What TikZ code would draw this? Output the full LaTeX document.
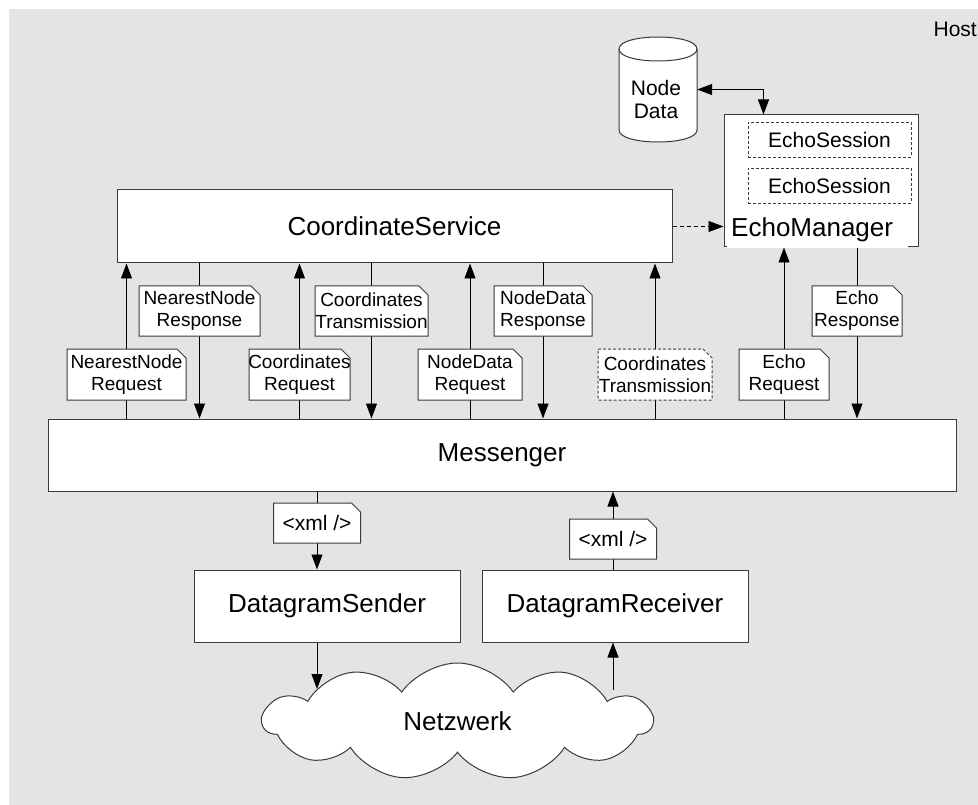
\documentclass[tikz,border=0pt]{standalone}
\usepackage{fontspec}
\setmainfont{Liberation Sans}
\usetikzlibrary{arrows.meta,shapes.symbols,calc}
\pgfdeclarelayer{bg}
\pgfdeclarelayer{lines}
\pgfsetlayers{bg,lines,main}

\definecolor{hostgray}{HTML}{E4E4E4}
\definecolor{boxline}{HTML}{3A3A3A}

\tikzset{
  bigfont/.style={font=\fontsize{26}{30}\selectfont},
  midfont/.style={font=\fontsize{21}{23}\selectfont},
  smallfont/.style={font=\fontsize{19}{22}\selectfont},
  box/.style={draw=boxline, fill=white, line width=1pt, inner sep=0pt, bigfont},
  sessionbox/.style={draw=boxline, fill=white, line width=0.9pt, dash pattern=on 3pt off 2pt, inner sep=0pt, midfont},
  notefill/.style={draw=boxline, fill=white, line width=1pt},
  notetext/.style={inner sep=0pt, align=center, smallfont},
  dashednote/.style={dash pattern=on 3pt off 2pt},
  arr/.style={-{Triangle[length=15pt,width=11pt]}, line width=0.9pt, draw=black},
  biarr/.style={{Triangle[length=15pt,width=11pt]}-{Triangle[length=15pt,width=11pt]}, line width=0.9pt, draw=black},
}

% message note with a folded top-right corner:
% name, centre x, centre y, width, height, extra style, text
\newcommand\msgnote[7]{%
  \draw[notefill,#6] ({#2-#4/2},{#3-#5/2}) -- ({#2+#4/2-9},{#3-#5/2})
     -- ({#2+#4/2},{#3-#5/2+9}) -- ({#2+#4/2},{#3+#5/2})
     -- ({#2-#4/2},{#3+#5/2}) -- cycle;
  \node[notetext, minimum width=#4, minimum height=#5] (#1) at (#2,#3) {#7};%
}

\begin{document}
\begin{tikzpicture}[x=1pt,y=-1pt]
\useasboundingbox (0,0) rectangle (978,805);

% host area
\begin{pgfonlayer}{bg}
  \fill[hostgray] (9,9) rectangle (978,805);
\end{pgfonlayer}
\node[anchor=base east, inner sep=0pt, midfont] (host) at (977,37) {Host};

% node data store
\draw[notefill] (619,49) -- (619,130) .. controls (619,146) and (697,146) .. (697,130)
  -- (697,49) .. controls (697,33) and (619,33) .. (619,49) -- cycle;
\draw[boxline, line width=1pt] (619,49) .. controls (619,65) and (697,65) .. (697,49);
\node[inner sep=0pt, minimum width=78, minimum height=105] (ndb) at (658,89.5) {};
\node[inner sep=0pt, align=center, midfont] (nd) at (656,99) {Node\\Data};

% echo manager with its sessions
\node[box, minimum width=194, minimum height=132] (em) at (821,181) {};
\node[sessionbox, minimum width=163, minimum height=35] (es1) at (829.5,139.5) {EchoSession};
\node[sessionbox, minimum width=163, minimum height=35] (es2) at (829.5,185.5) {EchoSession};
\fill[white] (727,214) rectangle (908,248);
\node[anchor=base west, inner sep=0pt, bigfont] (emlabel) at (731,237) {EchoManager};

% main components
\node[box, minimum width=555, minimum height=73] (cs) at (394.5,226.5) {CoordinateService};
\node[box, minimum width=908, minimum height=72] (msg) at (502,455) {Messenger};
\node[box, minimum width=266, minimum height=72] (ds) at (327,606) {DatagramSender};
\node[box, minimum width=266, minimum height=72] (dr) at (615,606) {DatagramReceiver};
\node[cloud, draw=boxline, fill=white, line width=1pt, cloud puffs=11, cloud puff arc=110,
      aspect=3.3, minimum width=389, minimum height=117, inner sep=0pt, bigfont]
      (net) at (457.5,721.5) {Netzwerk};

% messages
\msgnote{nnreq}{126.5}{374.5}{119}{51}{}{NearestNode\\Request}
\msgnote{nnres}{199.5}{311}{121}{50}{}{NearestNode\\Response}
\msgnote{coreq}{299.5}{374.5}{101}{51}{}{Coordinates\\Request}
\msgnote{cotr}{371.5}{311}{113}{50}{}{Coordinates\\Transmission}
\msgnote{ndreq}{470}{374.5}{104}{51}{}{NodeData\\Request}
\msgnote{ndres}{543}{311}{98}{50}{}{NodeData\\Response}
\msgnote{cotrb}{655}{374.5}{114}{51}{dashednote}{Coordinates\\Transmission}
\msgnote{ereq}{784}{374.5}{90}{51}{}{Echo\\Request}
\msgnote{eres}{857}{311}{90}{50}{}{Echo\\Response}
\msgnote{xmlout}{317}{523}{87}{40}{}{\fontsize{21}{23}\selectfont <xml />}
\msgnote{xmlin}{613}{539}{87}{40}{}{\fontsize{21}{23}\selectfont <xml />}

\coordinate (netin) at (317,689);
\coordinate (netout) at (613,690);

% connectors
\begin{pgfonlayer}{lines}
  \draw[biarr] ($(ndb.south)+(-15,-1)$) -- ($(ndb.south)+(-15,0)$ |- cs.north);
  \draw[biarr] (ndb.east) -| ($(em.north west)+(40,0)$);
  \draw[arr, dash pattern=on 4pt off 3pt] (cs.east) -- (cs.east -| em.west);

  \draw[arr] (msg.north -| nnreq) -- (cs.south -| nnreq);
  \draw[arr] (cs.south -| nnres) -- (msg.north -| nnres);
  \draw[arr] (msg.north -| coreq) -- (cs.south -| coreq);
  \draw[arr] (cs.south -| cotr) -- (msg.north -| cotr);
  \draw[arr] (msg.north -| ndreq) -- (cs.south -| ndreq);
  \draw[arr] (cs.south -| ndres) -- (msg.north -| ndres);
  \draw[arr] (msg.north -| cotrb) -- (cs.south -| cotrb);
  \draw[arr] (msg.north -| ereq) -- (em.south -| ereq);
  \draw[arr] (em.south -| eres) -- (msg.north -| eres);

  \draw[arr] (msg.south -| xmlout) -- (ds.north -| xmlout);
  \draw[arr] (dr.north -| xmlin) -- (msg.south -| xmlin);
  \draw[arr] (ds.south -| netin) -- (netin);
  \draw[arr] (netout) -- (dr.south -| netout);
\end{pgfonlayer}
\end{tikzpicture}
\end{document}
